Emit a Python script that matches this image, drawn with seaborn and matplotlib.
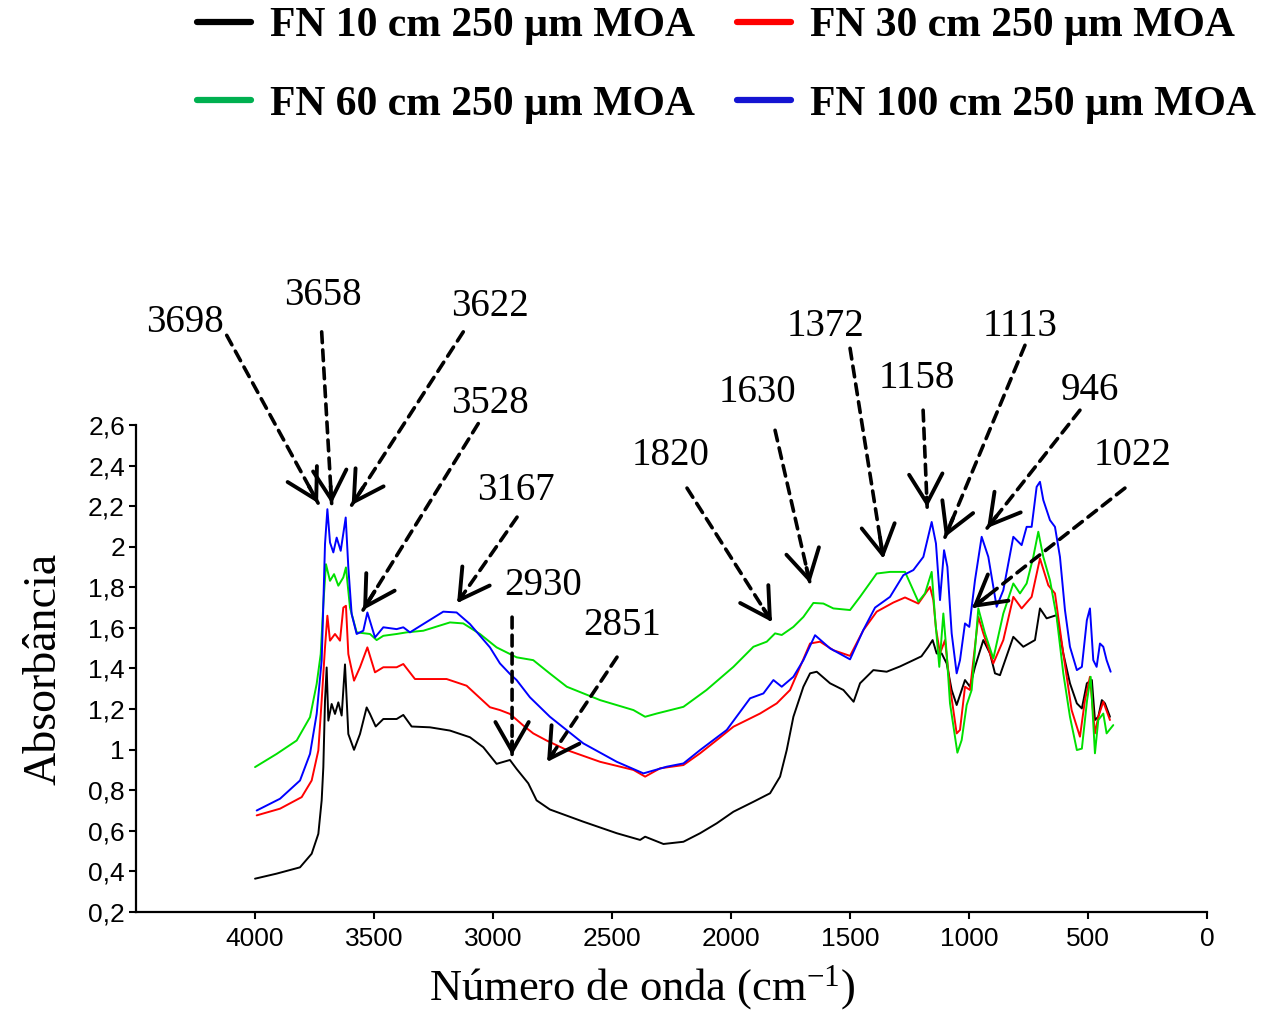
import numpy as np
import pandas as pd
import matplotlib
matplotlib.use("Agg")
import matplotlib.pyplot as plt
from matplotlib.lines import Line2D
from matplotlib.ticker import FuncFormatter
import seaborn as sns

# ---------------- data ----------------
black_x = [4000, 3909, 3811, 3762, 3734, 3720, 3713, 3706, 3699, 3692, 3678, 3664, 3650, 3636, 3622,
           3608, 3584, 3559, 3531, 3517, 3493, 3461, 3405, 3377, 3342, 3265, 3181, 3097, 3041, 2985,
           2929, 2901, 2852, 2817, 2761, 2621, 2480, 2382, 2361, 2284, 2200, 2130, 2060, 1990, 1906,
           1836, 1794, 1766, 1738, 1696, 1668, 1640, 1584, 1528, 1485, 1458, 1402, 1346, 1290, 1234,
           1200, 1171, 1153, 1136, 1115, 1094, 1073, 1052, 1017, 996, 975, 940, 912, 891, 870, 814,
           772, 723, 702, 674, 632, 604, 576, 547, 526, 505, 484, 471, 457, 442, 429, 408]
black_y = [0.364, 0.389, 0.42, 0.487, 0.585, 0.75, 0.914, 1.24, 1.405, 1.143, 1.225, 1.176, 1.233, 1.168, 1.42,
           1.077, 0.999, 1.077, 1.208, 1.176, 1.114, 1.151, 1.151, 1.171, 1.114, 1.11, 1.094, 1.061, 1.012, 0.93,
           0.949, 0.905, 0.834, 0.75, 0.705, 0.645, 0.588, 0.555, 0.571, 0.535, 0.546, 0.588, 0.637, 0.694, 0.743,
           0.785, 0.867, 0.998, 1.162, 1.31, 1.376, 1.384, 1.327, 1.294, 1.236, 1.327, 1.392, 1.384, 1.41, 1.441,
           1.46, 1.507, 1.54, 1.474, 1.474, 1.425, 1.294, 1.22, 1.343, 1.31, 1.408, 1.54, 1.474, 1.376, 1.367, 1.556,
           1.507, 1.54, 1.696, 1.647, 1.663, 1.474, 1.327, 1.228, 1.203, 1.327, 1.343, 1.146, 1.162, 1.244, 1.228, 1.162]

red_x = [3993, 3895, 3804, 3762, 3734, 3720, 3706, 3696, 3685, 3664, 3643, 3629, 3618, 3608, 3584, 3559,
         3528, 3496, 3461, 3405, 3377, 3328, 3195, 3111, 3013, 2971, 2929, 2873, 2831, 2775, 2690, 2550,
         2410, 2361, 2298, 2200, 2130, 2060, 1990, 1878, 1808, 1752, 1710, 1668, 1626, 1570, 1500, 1444,
         1388, 1318, 1269, 1213, 1164, 1150, 1139, 1122, 1101, 1080, 1052, 1038, 1017, 996, 961, 940, 898,
         856, 814, 779, 737, 702, 667, 639, 604, 569, 534, 513, 492, 471, 457, 436, 408]
red_y = [0.676, 0.709, 0.766, 0.848, 0.996, 1.242, 1.504, 1.66, 1.537, 1.57, 1.537, 1.70, 1.709, 1.471, 1.34, 1.406,
         1.504, 1.381, 1.406, 1.406, 1.422, 1.348, 1.348, 1.315, 1.209, 1.195, 1.176, 1.119, 1.08, 1.045, 0.998, 0.94,
         0.90, 0.867, 0.908, 0.924, 0.982, 1.047, 1.113, 1.178, 1.228, 1.294, 1.408, 1.523, 1.532, 1.49, 1.462, 1.589,
         1.68, 1.725, 1.75, 1.72, 1.802, 1.737, 1.597, 1.474, 1.54, 1.31, 1.08, 1.097, 1.31, 1.294, 1.654, 1.573, 1.425,
         1.54, 1.753, 1.696, 1.753, 1.942, 1.81, 1.77, 1.474, 1.195, 1.064, 1.244, 1.359, 1.08, 1.162, 1.236, 1.146]

green_x = [4000, 3909, 3825, 3769, 3741, 3724, 3713, 3702, 3685, 3668, 3650, 3629, 3618, 3601, 3573, 3517,
           3489, 3461, 3405, 3363, 3293, 3181, 3125, 3055, 2985, 2901, 2831, 2761, 2690, 2550, 2410, 2361,
           2312, 2200, 2103, 1990, 1906, 1850, 1815, 1787, 1738, 1696, 1654, 1612, 1570, 1500, 1458, 1388,
           1332, 1269, 1240, 1213, 1185, 1157, 1143, 1125, 1108, 1094, 1080, 1049, 1031, 1010, 989, 961, 933,
           898, 856, 814, 786, 758, 730, 709, 688, 660, 632, 604, 576, 547, 526, 504, 489, 471, 457, 436, 422, 394]
green_y = [0.914, 0.979, 1.045, 1.16, 1.324, 1.471, 1.717, 1.914, 1.832, 1.865, 1.808, 1.849, 1.898, 1.70, 1.578, 1.57,
           1.54, 1.561, 1.57, 1.578, 1.586, 1.627, 1.622, 1.57, 1.504, 1.455, 1.441, 1.375, 1.31, 1.244, 1.195, 1.162,
           1.178, 1.211, 1.294, 1.408, 1.507, 1.532, 1.573, 1.565, 1.605, 1.654, 1.723, 1.72, 1.696, 1.688, 1.753, 1.868,
           1.876, 1.876, 1.80, 1.729, 1.77, 1.876, 1.654, 1.408, 1.671, 1.474, 1.228, 0.985, 1.047, 1.22, 1.294, 1.696, 1.573,
           1.449, 1.671, 1.819, 1.77, 1.819, 1.95, 2.074, 1.95, 1.835, 1.654, 1.376, 1.162, 0.998, 1.005, 1.244, 1.359,
           0.982, 1.146, 1.178, 1.08, 1.121]

blue_x = [3993, 3895, 3811, 3769, 3741, 3720, 3713, 3706, 3696, 3685, 3671, 3657, 3640, 3619, 3608, 3594,
          3573, 3545, 3528, 3496, 3461, 3405, 3377, 3349, 3293, 3209, 3153, 3097, 3013, 2971, 2929, 2901,
          2845, 2761, 2621, 2480, 2368, 2270, 2200, 2130, 2018, 1920, 1864, 1822, 1787, 1738, 1696, 1647,
          1584, 1500, 1444, 1395, 1332, 1276, 1234, 1192, 1157, 1139, 1122, 1105, 1091, 1073, 1052, 1038,
          1017, 999, 975, 947, 919, 884, 856, 814, 779, 758, 737, 716, 702, 688, 660, 639, 618, 597, 576,
          547, 526, 505, 492, 478, 464, 450, 436, 422, 405]
blue_y = [0.70, 0.758, 0.848, 0.979, 1.176, 1.439, 1.717, 2.013, 2.185, 2.021, 1.972, 2.045, 1.98, 2.144, 1.898, 1.668,
          1.57, 1.586, 1.676, 1.553, 1.603, 1.594, 1.603, 1.578, 1.619, 1.68, 1.676, 1.619, 1.504, 1.425, 1.373, 1.343,
          1.258, 1.162, 1.031, 0.94, 0.883, 0.916, 0.932, 0.998, 1.097, 1.253, 1.277, 1.343, 1.31, 1.359, 1.441, 1.564,
          1.499, 1.445, 1.59, 1.70, 1.753, 1.86, 1.885, 1.95, 2.122, 2.016, 1.737, 1.983, 1.901, 1.573, 1.376, 1.441,
          1.622, 1.605, 1.835, 2.049, 1.95, 1.704, 1.786, 2.049, 2.008, 2.098, 2.098, 2.295, 2.32, 2.23, 2.131, 2.098,
          1.95, 1.688, 1.507, 1.392, 1.408, 1.638, 1.696, 1.441, 1.408, 1.523, 1.507, 1.441, 1.384]

series_labels = ["FN 10 cm 250 \u00b5m MOA", "FN 30 cm 250 \u00b5m MOA",
                 "FN 60 cm 250 \u00b5m MOA", "FN 100 cm 250 \u00b5m MOA"]

x_ticks = [4000, 3500, 3000, 2500, 2000, 1500, 1000, 500, 0]
y_ticks = [0.2, 0.4, 0.6, 0.8, 1.0, 1.2, 1.4, 1.6, 1.8, 2.0, 2.2, 2.4, 2.6]

# peak annotations
peak_labels = ["3698", "3658", "3622", "3528", "3167", "2930", "2851",
               "1820", "1630", "1372", "1158", "1113", "946", "1022"]
label_x = [4294, 3713, 3013, 3013, 2903, 2790, 2458, 2256, 1891, 1605, 1218, 786, 492, 315]
label_y = [3.106, 3.24, 3.182, 2.706, 2.279, 1.811, 1.614, 2.451, 2.762, 3.087, 2.83, 3.087, 2.771, 2.451]
tail_x = [4119, 3720, 3125, 3062, 2899, 2920, 2479, 2185, 1815, 1500, 1193, 765, 534, 345]
tail_y = [3.042, 3.059, 3.059, 2.607, 2.146, 1.653, 1.456, 2.289, 2.574, 2.978, 2.673, 2.993, 2.673, 2.289]
tip_x = [3735, 3678, 3594, 3546, 3151, 2920, 2773, 1828, 1668, 1360, 1176, 1101, 924, 987]
tip_y = [2.215, 2.213, 2.205, 1.688, 1.722, 0.973, 0.939, 1.629, 1.82, 1.942, 2.195, 2.047, 2.092, 1.698]

# ---------------- style ----------------
sns.set_style("ticks")
plt.rcParams["font.family"] = ["Liberation Sans", "DejaVu Sans"]
plt.rcParams["text.color"] = "black"
plt.rcParams["axes.labelcolor"] = "black"
plt.rcParams["xtick.color"] = "black"
plt.rcParams["ytick.color"] = "black"
plt.rcParams["axes.edgecolor"] = "black"
plt.rcParams["mathtext.fontset"] = "custom"
plt.rcParams["mathtext.rm"] = "Liberation Serif"
plt.rcParams["mathtext.default"] = "rm"

line_colors = ["#000000", "#ff0000", "#00e000", "#0000ff"]
legend_colors = ["#000000", "#ff0000", "#00b050", "#1414d2"]
serif = ["Liberation Serif", "DejaVu Serif"]

fig = plt.figure(figsize=(12.63, 10.16), dpi=100)
ax = fig.add_axes([0.1077, 0.1024, 0.848, 0.4793])

for xs, ys, c in zip([black_x, red_x, green_x, blue_x],
                     [black_y, red_y, green_y, blue_y], line_colors):
    sns.lineplot(x=xs, y=ys, ax=ax, color=c, lw=1.4, sort=False, estimator=None)

ax.set_xlim(4500, 0)
ax.set_ylim(0.2, 2.6)
ax.set_xticks(x_ticks)
ax.set_yticks(y_ticks)
ax.yaxis.set_major_formatter(FuncFormatter(lambda v, p: ("%g" % round(v, 2)).replace(".", ",")))
sns.despine(ax=ax)
for s in ["left", "bottom"]:
    ax.spines[s].set_linewidth(1.6)
    ax.spines[s].set_color("black")
ax.tick_params(axis="both", direction="out", length=5, width=1.5, labelsize=19,
               colors="black", labelcolor="black")
ax.tick_params(axis="x", pad=6)
ax.tick_params(axis="y", pad=3)

ax.set_xlabel(r"Número de onda (cm$^{-1}$)", fontsize=32, family=serif, color="black")
ax.xaxis.set_label_coords(0.4725, -0.105)
ax.set_ylabel("Absorbância", fontsize=33, family=serif, labelpad=16, color="black")

# annotations: dashed shafts + solid open heads
for lab, lx, ly, tx, ty, px, py in zip(peak_labels, label_x, label_y, tail_x, tail_y, tip_x, tip_y):
    ax.annotate("", xy=(px, py), xytext=(tx, ty), annotation_clip=False,
                arrowprops=dict(arrowstyle="-", linestyle=(0, (3, 2)), lw=2.6, color="black",
                                shrinkA=0, shrinkB=0))
    bx = tx + 0.9 * (px - tx)
    by = ty + 0.9 * (py - ty)
    ax.annotate("", xy=(px, py), xytext=(bx, by), annotation_clip=False,
                arrowprops=dict(arrowstyle="->,head_length=0.7,head_width=0.4", lw=2.8, color="black",
                                mutation_scale=30, shrinkA=0, shrinkB=0))
    ax.text(lx, ly, lab, fontsize=28, family=serif, ha="center", va="center",
            color="black", clip_on=False)

# legend (row 1: black, red; row 2: green, blue)
handles = [Line2D([], [], color=c, lw=4.5) for c in legend_colors]
order = [0, 2, 1, 3]
leg = fig.legend([handles[i] for i in order], [series_labels[i] for i in order],
                 loc="upper center", bbox_to_anchor=(0.575, 1.03), ncol=2, frameon=False,
                 prop=dict(family=serif, weight="bold", size=30),
                 handlelength=1.3, handletextpad=0.45, columnspacing=1.0, labelspacing=0.97)
for t in leg.get_texts():
    t.set_color("black")

fig.savefig("out.png", dpi=100)
